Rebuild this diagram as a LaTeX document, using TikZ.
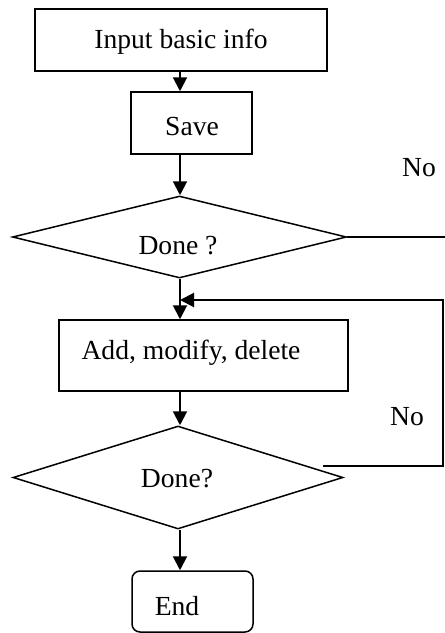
\documentclass[tikz,border=0pt]{standalone}
\usepackage{fontspec}
\setmainfont{Liberation Serif}
\usetikzlibrary{shapes.geometric,arrows.meta}
\begin{document}
\begin{tikzpicture}[x=0.5pt,y=-0.5pt,
  every node/.style={font=\fontsize{13.8}{16}\selectfont},
  boxnode/.style={draw,line width=0.75pt,inner sep=0pt},
  decision/.style={draw,diamond,line width=0.75pt,inner sep=0pt,shape aspect=4},
  txt/.style={inner sep=0pt},
  flow/.style={line width=1pt,-{Triangle[length=7pt,width=7pt]}},
  plain/.style={line width=1pt}]
\useasboundingbox (0,0) rectangle (445,633);
% shapes
\node[boxnode,minimum width=146pt,minimum height=31pt] (b1) at (181,40) {};
\node[boxnode,minimum width=60.5pt,minimum height=31pt] (b2) at (191.5,123) {};
\node[decision,minimum width=167pt,minimum height=41pt] (d1) at (179.5,237) {};
\node[boxnode,minimum width=144.5pt,minimum height=35.5pt] (b3) at (203.5,355.5) {};
\node[decision,minimum width=165pt,minimum height=51.5pt] (d2) at (178,477.5) {};
\node[boxnode,rounded corners=4pt,minimum width=60.5pt,minimum height=30.5pt] (e) at (192.5,601.5) {};
% texts
\node[txt] (t1) at (181,42) {Input basic info};
\node[txt] (t2) at (192,126) {Save};
\node[txt] (t3) at (178,246) {Done ?};
\node[txt] (t4) at (191,353) {Add, modify, delete};
\node[txt] (t5) at (177,479) {Done?};
\node[txt] (t6) at (177,606) {End};
\node[txt] (n1) at (419,168) {No};
\node[txt] (n2) at (407,417) {No};
% coordinates
\coordinate (s) at (180,0);
\coordinate (j) at (180,300);
\coordinate (r1) at (445,237);
\coordinate (c1) at (443,300);
\coordinate (c2) at (443,466);
\coordinate (c3) at (323,466);
% connectors
\draw[flow] (b1.south -| s) -- (b2.north -| s);
\draw[flow] (b2.south -| s) -- (d1.north -| s);
\draw[plain] (d1.east) -- (r1);
\draw[flow] (d1.south -| s) -- (b3.north -| s);
\draw[flow] (b3.south -| s) -- (d2.north -| s);
\draw[flow] (d2.south -| s) -- (e.north -| s);
\draw[flow] (c3) -- (c2) -- (c1) -- (j);
\end{tikzpicture}
\end{document}
